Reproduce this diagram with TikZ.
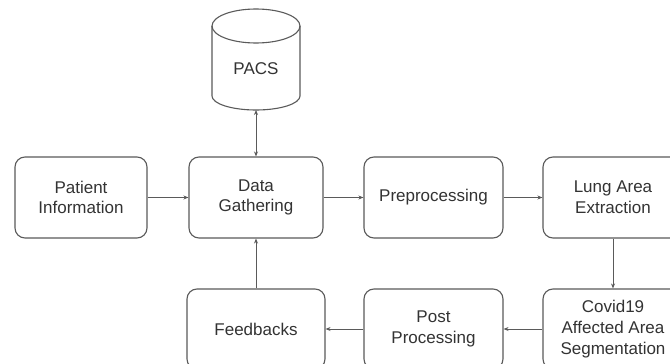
\documentclass[tikz,border=0pt]{standalone}
\usepackage{fontspec}
\setmainfont{Liberation Sans}
\usetikzlibrary{arrows.meta}
\definecolor{edgec}{HTML}{5A5A5A}
\definecolor{txtc}{HTML}{333333}
\tikzset{
  box/.style={draw=edgec, line width=1.1pt, rounded corners=10pt, fill=white,
    text=txtc, align=center, font=\fontsize{17}{20.7}\selectfont, inner sep=2pt},
  conn/.style={draw=edgec, line width=0.9pt, -{Stealth[length=5pt,width=4pt]}},
  biconn/.style={draw=edgec, line width=0.9pt, {Stealth[length=5pt,width=4pt]}-{Stealth[length=5pt,width=4pt]}},
}
\begin{document}
\begin{tikzpicture}[x=1pt,y=-1pt]
\useasboundingbox (0,0) rectangle (670,364);
\clip (0,0) rectangle (670,364);
\fill[white] (0,0) rectangle (670,364);
% nodes row 1
\node[box, minimum width=132pt, minimum height=81pt] (pat) at (81,197.5) {Patient\\Information};
\node[box, minimum width=134pt, minimum height=81pt] (dg) at (256,197.5) {Data\\Gathering};
\node[box, minimum width=139pt, minimum height=81pt] (pre) at (433.5,197.5) {Preprocessing};
\node[box, minimum width=140pt, minimum height=81pt] (lung) at (613,197.5) {Lung Area\\Extraction};
% row 2
\node[box, minimum width=138pt, minimum height=80pt] (fb) at (256,329) {Feedbacks};
\node[box, minimum width=139pt, minimum height=80pt] (post) at (433.5,329) {Post\\Processing};
\node[box, minimum width=140pt, minimum height=80pt] (cov) at (613,329) {Covid19\\Affected Area\\Segmentation};
% PACS cylinder
\draw[draw=edgec, line width=1.1pt, fill=white]
  (212,26) -- (212,96) arc[start angle=180, end angle=360, x radius=44, y radius=-14]
  -- (300,26) arc[start angle=0, end angle=180, x radius=44, y radius=-17] -- cycle;
\draw[draw=edgec, line width=1.1pt] (212,26) arc[start angle=180, end angle=360, x radius=44, y radius=-17];
\node[text=txtc, font=\fontsize{17}{20.7}\selectfont] (pacs) at (256,69) {PACS};
\coordinate (pacsbot) at (256,110);
% connectors
\draw[conn] (pat) -- (dg);
\draw[conn] (dg) -- (pre);
\draw[conn] (pre) -- (lung);
\draw[conn] (lung) -- (cov);
\draw[conn] (cov) -- (post);
\draw[conn] (post) -- (fb);
\draw[conn] (fb) -- (dg);
\draw[biconn] (dg) -- (pacsbot);
\end{tikzpicture}
\end{document}
